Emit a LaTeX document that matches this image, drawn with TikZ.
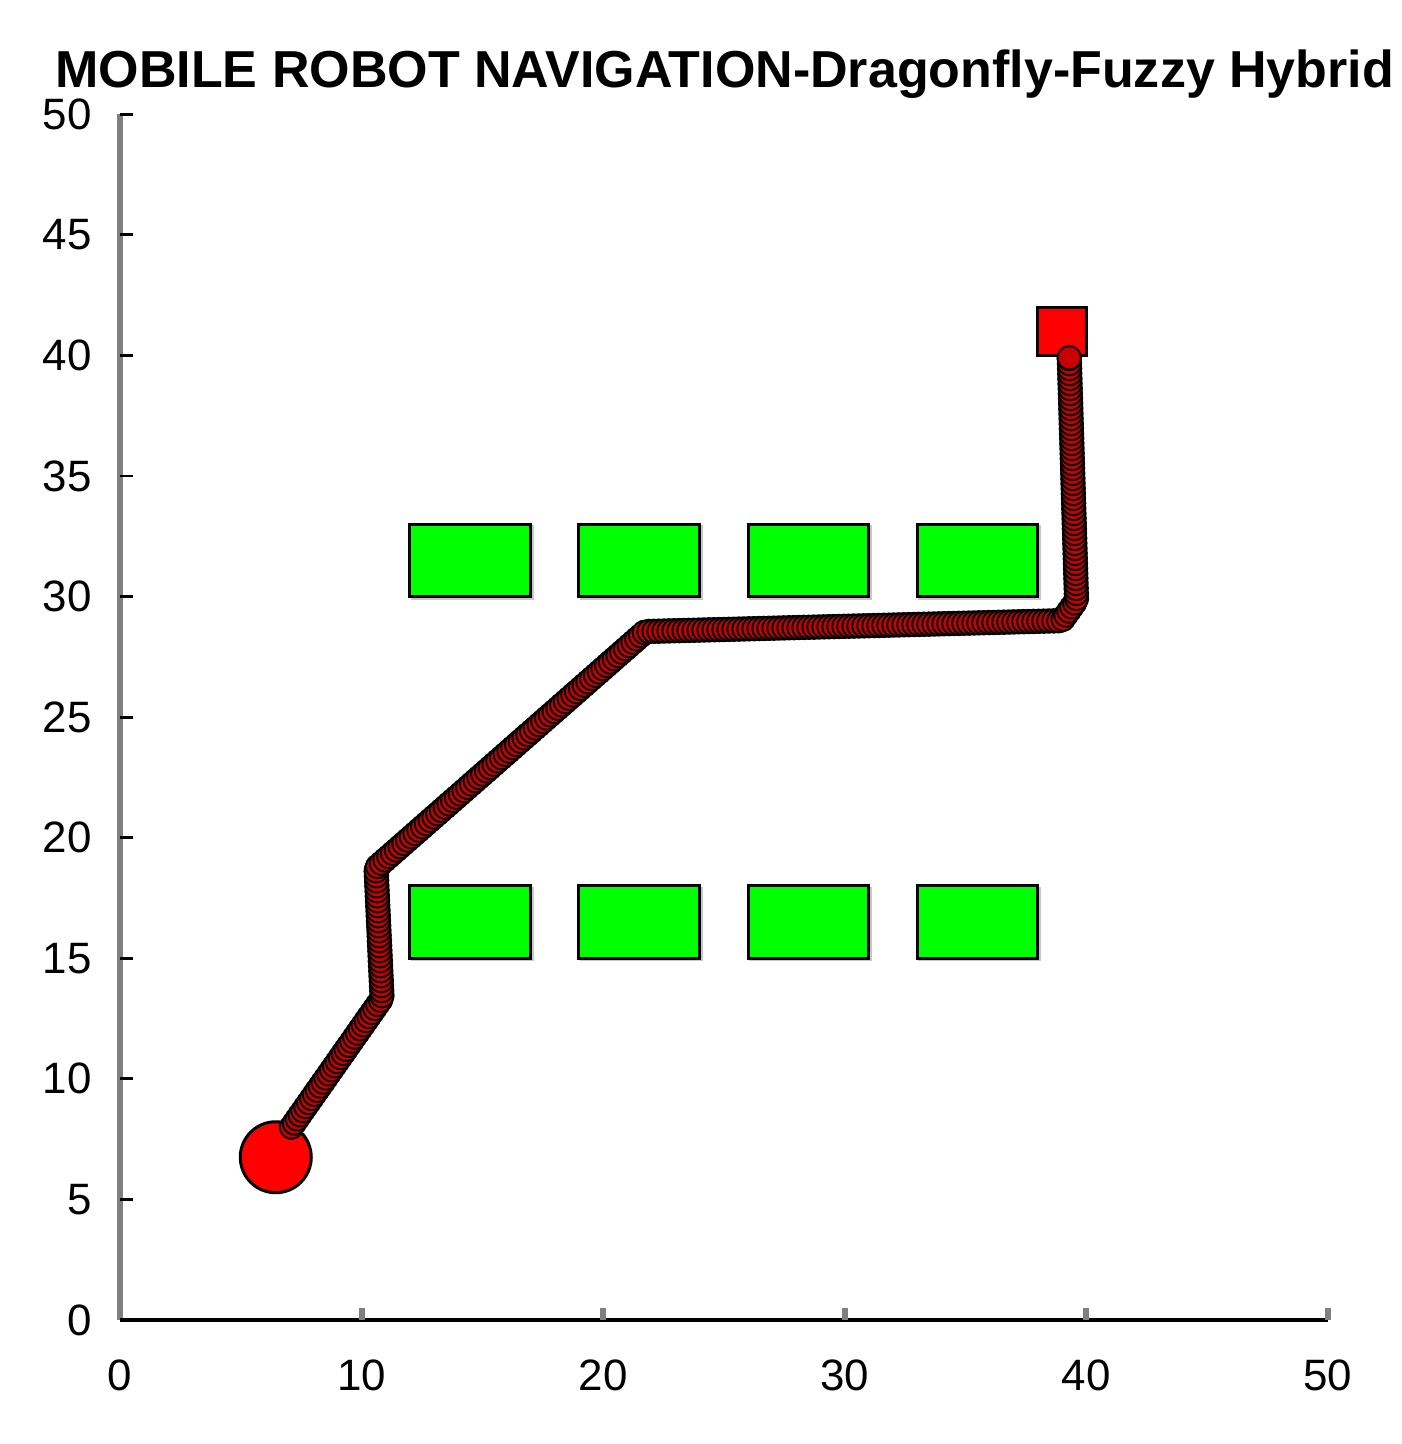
\documentclass[tikz,border=0pt]{standalone}
\usepackage{fontspec}
\setmainfont{Liberation Sans}
\usetikzlibrary{decorations.markings}
\definecolor{obsgreen}{RGB}{0,255,0}
\definecolor{pathred}{RGB}{200,0,0}
\tikzset{
  obstacle/.style={fill=obsgreen, draw=black, line width=1.7pt},
  halo/.style={draw=black!22, line width=1.4pt},
  yaxis/.style={draw=black!50, line width=3.4pt},
  xaxis/.style={draw=black, line width=2.2pt},
  ytick/.style={draw=black, line width=1.6pt},
  xtick/.style={draw=black!50, line width=3.4pt},
  ticklabel/.style={font=\fontsize{25}{25}\selectfont, inner sep=0pt},
  pathmarker/.style={fill=pathred, draw=black, line width=1.1pt},
  robotpath/.style={
    postaction={decorate},
    decoration={markings,
      mark=between positions 0 and 1 step 0.1cm with {\path[pathmarker] (0,0) circle (0.235cm);},
      mark=at position 1 with {\path[pathmarker] (0,0) circle (0.235cm);}}
  }
}
\begin{document}
\begin{tikzpicture}[x=0.02cm,y=0.02cm]
\useasboundingbox (0,0) rectangle (1401,1444);
\node[anchor=base west, inner sep=0pt, font=\bfseries\fontsize{29.6}{29.6}\selectfont] (title) at (55,1356) {MOBILE ROBOT NAVIGATION-Dragonfly-Fuzzy Hybrid};
\begin{scope}[shift={(2.4cm,2.48cm)}, x=0.4832cm, y=0.4824cm]
  % axes
  \draw[yaxis] (0,0) -- (0,50);
  \draw[xaxis] (0,0) -- (50,0);
  \foreach \v in {0,5,...,50} {
    \draw[ytick] (0,\v) -- (0.55,\v);
    \node[ticklabel, anchor=east] (yl\v) at (-1.15,\v) {\v};
  }
  \foreach \v in {10,20,...,50} {
    \draw[xtick] (\v,0) -- (\v,0.5);
  }
  \foreach \v in {0,10,...,50} {
    \node[ticklabel] (xl\v) at (\v,-2.28) {\v};
  }
  % obstacles
  \foreach \xa/\xb in {12/17,19/24,26/31,33/38} {
    \foreach \ya/\yb in {30/33,15/18} {
      \draw[halo] (\xa+0.08,\ya-0.08) rectangle (\xb+0.08,\yb-0.08);
      \draw[obstacle] (\xa,\ya) rectangle (\xb,\yb);
    }
  }
  % start and goal
  \node[circle, fill=red, draw=black, line width=1.7pt, minimum size=1.42cm, inner sep=0pt] (start) at (6.45,6.75) {};
  \node[rectangle, fill=red, draw=black, line width=1.7pt, minimum width=0.97cm, minimum height=0.97cm, inner sep=0pt] (goal) at (39,41) {};
  % path
  \coordinate (p0) at (7.1,8.0);
  \coordinate (p1) at (10.85,13.35);
  \coordinate (p2) at (10.6,18.75);
  \coordinate (p3) at (21.75,28.55);
  \coordinate (p4) at (39.0,29.0);
  \coordinate (p5) at (39.6,29.85);
  \coordinate (p6) at (39.3,39.9);
  \draw[black, line width=13pt, line join=round, robotpath] (p0) -- (p1) -- (p2) -- (p3) -- (p4) -- (p5) -- (p6);
\end{scope}
\end{tikzpicture}
\end{document}
